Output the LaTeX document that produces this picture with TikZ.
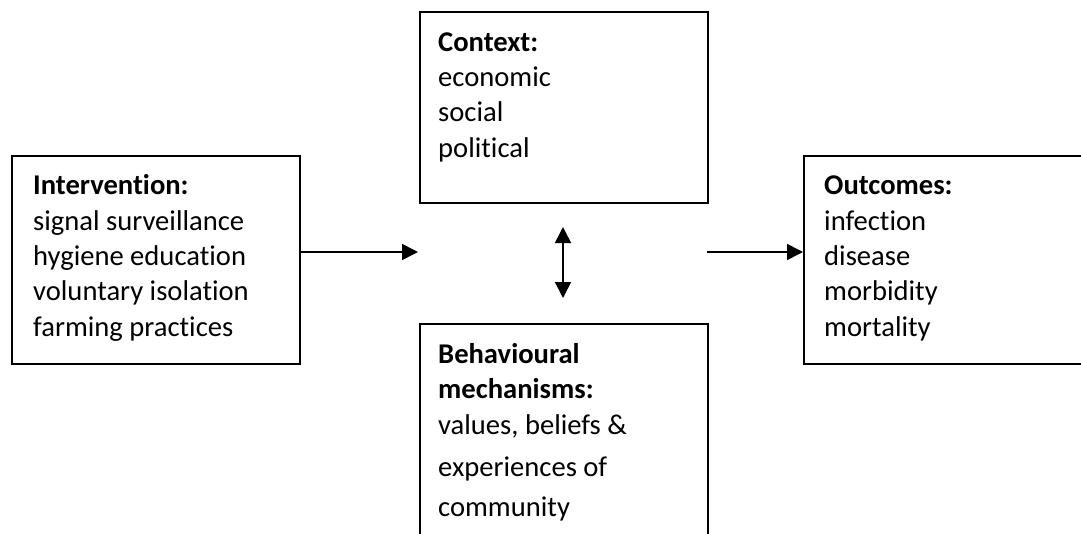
\documentclass[tikz,border=0pt]{standalone}
\usepackage{fontspec}
\setmainfont[Ligatures={NoCommon}]{Carlito}
\usetikzlibrary{arrows.meta}
\begin{document}
\begin{tikzpicture}[x=1pt,y=-1pt,
  box/.style={draw,line width=2pt,inner sep=0pt,anchor=north west},
  lbl/.style={anchor=base west,inner sep=0pt,font=\fontsize{28.6}{34}\selectfont},
  hd/.style={anchor=base west,inner sep=0pt,font=\fontsize{28.6}{34}\selectfont\bfseries},
  tip/.tip={Triangle[length=16pt,width=16pt]},
  conn/.style={line width=1.6pt,-tip},
  dconn/.style={line width=1.6pt,tip-tip}]
\useasboundingbox (0,0) rectangle (1081,533);
\clip (0,0) rectangle (1081,533);
% boxes
\node[box,minimum width=288pt,minimum height=208pt] (interv) at (11,155) {};
\node[box,minimum width=288pt,minimum height=191pt] (context) at (419,11) {};
\node[box,minimum width=288pt,minimum height=260pt] (behav) at (419,323) {};
\node[box,minimum width=300pt,minimum height=208pt] (outc) at (803,155) {};
% intervention text
\node[hd]  (i0) at (33,194) {Intervention:};
\node[lbl] (i1) at (33,230) {signal surveillance};
\node[lbl] (i2) at (33,265) {hygiene education};
\node[lbl] (i3) at (33,300) {voluntary isolation};
\node[lbl] (i4) at (33,336) {farming practices};
% context text
\node[hd]  (c0) at (438,51) {Context:};
\node[lbl] (c1) at (438,86) {economic};
\node[lbl] (c2) at (438,121) {social};
\node[lbl] (c3) at (438,157) {political};
% behavioural text
\node[hd]  (b0) at (438,363) {Behavioural};
\node[hd]  (b1) at (438,398) {mechanisms:};
\node[lbl] (b2) at (438,434) {values, beliefs \&};
\node[lbl] (b3) at (438,476) {experiences of};
\node[lbl] (b4) at (438,516) {community};
% outcomes text
\node[hd]  (o0) at (824,194) {Outcomes:};
\node[lbl] (o1) at (824,230) {infection};
\node[lbl] (o2) at (824,265) {disease};
\node[lbl] (o3) at (824,300) {morbidity};
\node[lbl] (o4) at (824,336) {mortality};
% connectors
\coordinate (a1) at (418,252);
\coordinate (a2) at (707,252);
\coordinate (d1) at (563,227);
\coordinate (d2) at (563,298);
\draw[conn] (interv.east |- a1) -- (a1);
\draw[conn] (a2) -- (outc.west |- a2);
\draw[dconn] (d1) -- (d2);
\end{tikzpicture}
\end{document}
